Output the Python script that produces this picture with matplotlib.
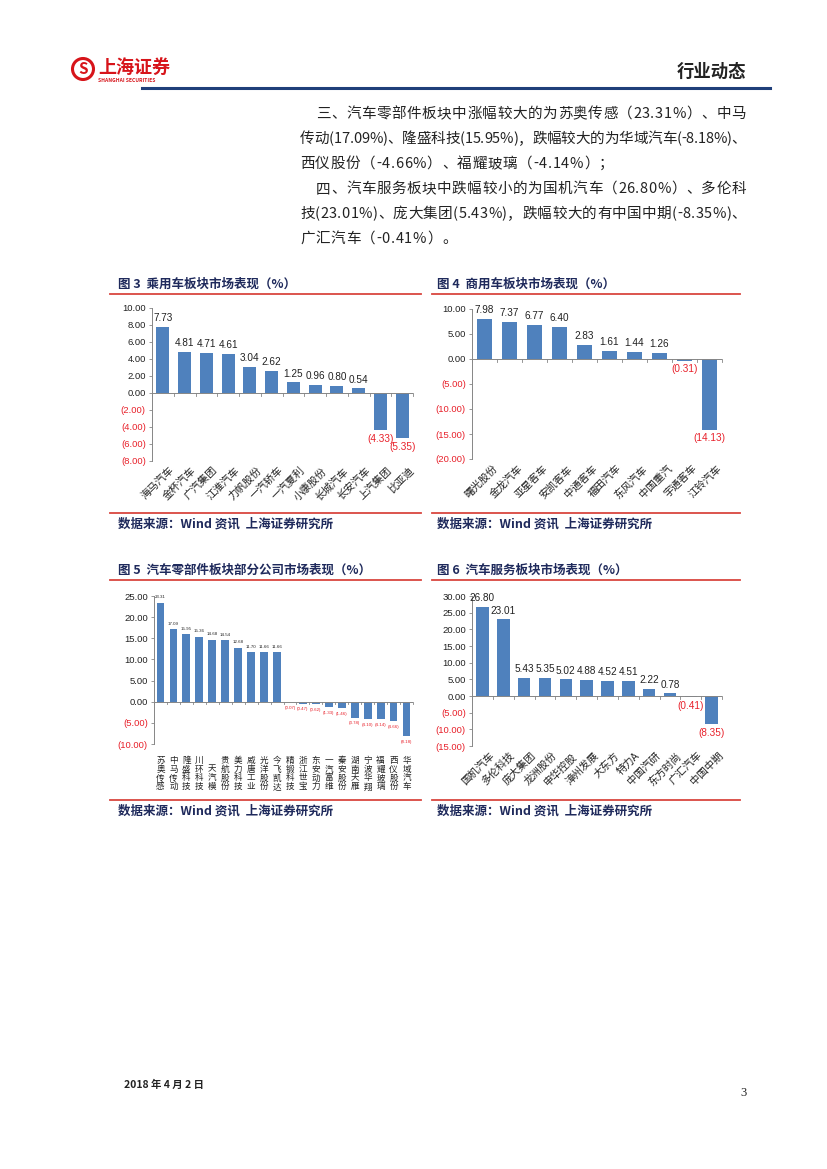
import matplotlib
matplotlib.use("Agg")
import matplotlib.pyplot as plt
from matplotlib.patches import Circle
from matplotlib.transforms import blended_transform_factory

plt.rcParams['font.family'] = ['Noto Sans CJK SC', 'DejaVu Sans']

# ---------------- data ----------------
cat3 = ['海马汽车', '金杯汽车', '广汽集团', '江淮汽车', '力帆股份', '一汽轿车',
        '一汽夏利', '小康股份', '长城汽车', '长安汽车', '上汽集团', '比亚迪']
val3 = [7.73, 4.81, 4.71, 4.61, 3.04, 2.62, 1.25, 0.96, 0.80, 0.54, -4.33, -5.35]

cat4 = ['曙光股份', '金龙汽车', '亚星客车', '安凯客车', '中通客车', '福田汽车',
        '东风汽车', '中国重汽', '宇通客车', '江铃汽车']
val4 = [7.98, 7.37, 6.77, 6.40, 2.83, 1.61, 1.44, 1.26, -0.31, -14.13]

cat5 = ['苏奥传感', '中马传动', '隆盛科技', '川环科技', '天汽模', '贵航股份',
        '美力科技', '威唐工业', '光洋股份', '今飞凯达', '精锻科技', '浙江世宝',
        '东安动力', '一汽富维', '秦安股份', '湖南天雁', '宁波华翔', '福耀玻璃',
        '西仪股份', '华域汽车']
val5 = [23.31, 17.09, 15.95, 15.36, 14.68, 14.54, 12.68, 11.70, 11.66, 11.66,
        -0.07, -0.47, -0.62, -1.33, -1.46, -3.78, -4.10, -4.14, -4.66, -8.18]

cat6 = ['国机汽车', '多伦科技', '庞大集团', '龙洲股份', '申华控股', '漳州发展',
        '大东方', '特力A', '中国汽研', '东方时尚', '广汇汽车', '中国中期']
val6 = [26.80, 23.01, 5.43, 5.35, 5.02, 4.88, 4.52, 4.51, 2.22, 0.78, -0.41, -8.35]

ticks3 = [10, 8, 6, 4, 2, 0, -2, -4, -6, -8]
ticks4 = [10, 5, 0, -5, -10, -15, -20]
ticks5 = [25, 20, 15, 10, 5, 0, -5, -10]
ticks6 = [30, 25, 20, 15, 10, 5, 0, -5, -10, -15]

titles = ['图 3  乘用车板块市场表现（%）', '图 4  商用车板块市场表现（%）',
          '图 5  汽车零部件板块部分公司市场表现（%）', '图 6  汽车服务板块市场表现（%）']
source = '数据来源：Wind 资讯  上海证券研究所'

para_lines = [
    '三、汽车零部件板块中涨幅较大的为苏奥传感（23.31%）、中马',
    '传动(17.09%)、隆盛科技(15.95%)，跌幅较大的为华域汽车(-8.18%)、',
    '西仪股份（-4.66%）、福耀玻璃（-4.14%）；',
    '四、汽车服务板块中跌幅较小的为国机汽车（26.80%）、多伦科',
    '技(23.01%)、庞大集团(5.43%)，跌幅较大的有中国中期(-8.35%)、',
    '广汇汽车（-0.41%）。',
]

# ---------------- page ----------------
W, H = 827, 1169
fig = plt.figure(figsize=(W / 100, H / 100), dpi=100)
fig.patch.set_facecolor('white')

NAVY = '#1f2a5c'
RED_LINE = '#d9463f'
BAR = '#4f81bd'
NEG = '#e8202a'


def fx(x):
    return x / W


def fy(y):
    return 1 - y / H


def hline(x0, x1, y, color, lw):
    fig.add_artist(plt.Line2D([fx(x0), fx(x1)], [fy(y), fy(y)], color=color, lw=lw,
                              transform=fig.transFigure))


# header
logo_ax = fig.add_axes([fx(70), fy(88), fx(110), 36 / H])
logo_ax.set_xlim(0, 110)
logo_ax.set_ylim(0, 36)
logo_ax.axis('off')
logo_ax.add_patch(Circle((13, 19), 10.5, fill=False, ec='#d7141a', lw=2.2))
logo_ax.text(13, 19, 'S', color='#d7141a', fontsize=11, fontweight='bold',
             ha='center', va='center', style='italic')
logo_ax.text(28, 21, '上海证券', color='#d7141a', fontsize=13, fontweight='bold',
             ha='left', va='center')
logo_ax.text(28, 8, 'SHANGHAI SECURITIES', color='#d7141a', fontsize=3.6,
             fontweight='bold', ha='left', va='center')

fig.text(fx(746), fy(72), '行业动态', fontsize=12.5, fontweight='bold', color='#222222',
         ha='right', va='center')
hline(142, 770, 88, '#1f3f7a', 2.2)

# paragraph (justified)
renderer = fig.canvas.get_renderer()
line_y = [114, 139, 164, 189, 214, 239]
line_x0 = [316, 300, 300, 316, 300, 300]
justify = [True, True, False, True, True, False]
RIGHT = 746
for s, y, x0, just in zip(para_lines, line_y, line_x0, justify):
    fs = 10.5
    widths = []
    arts = []
    for ch in s:
        t = fig.text(0, 0, ch, fontsize=fs, color='#222222', ha='left', va='center')
        bb = t.get_window_extent(renderer=renderer)
        w = bb.width if ch != ' ' else fs * 0.3
        widths.append(w)
        arts.append(t)
    total = sum(widths)
    gap = (RIGHT - x0 - total) / (len(s) - 1) if just else 0.6
    x = x0
    for t, w in zip(arts, widths):
        t.set_position((fx(x), fy(y)))
        x += w + gap


# ---------------- charts ----------------
def fmt(v):
    return f'({abs(v):.2f})' if v < 0 else f'{v:.2f}'


def draw_chart(box, cats, vals, ticks, label_fs, tick_fs, cat_fs, vertical=False,
               label_color_pos='#222222'):
    x0, y_top, x1, y_bot = box
    ax = fig.add_axes([fx(x0), fy(y_bot), fx(x1) - fx(x0), (y_bot - y_top) / H])
    n = len(cats)
    xs = list(range(n))
    ax.bar(xs, vals, width=0.6, color=BAR, zorder=2)
    ax.set_xlim(-0.5, n - 0.5)
    ax.set_ylim(min(ticks), max(ticks))
    ax.set_yticks(ticks)
    ax.set_yticklabels([fmt(t) for t in ticks], fontsize=tick_fs,
                       family=['Liberation Sans', 'DejaVu Sans'])
    for lab, t in zip(ax.get_yticklabels(), ticks):
        lab.set_color(NEG if t < 0 else '#222222')
    ax.tick_params(axis='y', length=2.5, width=0.6, color='#868686', pad=2)
    ax.set_xticks([])
    for sp in ['top', 'right', 'bottom']:
        ax.spines[sp].set_visible(False)
    ax.spines['left'].set_color('#868686')
    ax.spines['left'].set_linewidth(0.7)
    ax.axhline(0, color='#868686', lw=0.7, zorder=3)
    # category separator ticks on the zero line
    span = max(ticks) - min(ticks)
    tl = span * 0.018
    for b in range(n + 1):
        ax.plot([b - 0.5, b - 0.5], [0, -tl], color='#868686', lw=0.6, zorder=3,
                clip_on=False)
    # value labels
    off = span * 0.025
    for x, v in zip(xs, vals):
        if v >= 0:
            ax.text(x, v + off, fmt(v), ha='center', va='bottom', fontsize=label_fs,
                    color=label_color_pos, family=['Liberation Sans', 'DejaVu Sans'])
        else:
            ax.text(x, v - off, fmt(v), ha='center', va='top', fontsize=label_fs,
                    color=NEG, family=['Liberation Sans', 'DejaVu Sans'])
    trans = blended_transform_factory(ax.transData, ax.transAxes)
    for x, c in zip(xs, cats):
        if vertical:
            ax.text(x, -0.32, '\n'.join(c), transform=trans, ha='center', va='bottom',
                    fontsize=cat_fs, linespacing=0.98, color='#222222')
        else:
            ax.text(x + 0.3, -0.03, c, transform=trans, ha='right', va='top',
                    rotation=45, rotation_mode='anchor', fontsize=cat_fs,
                    color='#222222')
    return ax


# chart 3
draw_chart((152, 308, 413, 461), cat3, val3, ticks3, 7.2, 6.8, 7.5)
# chart 4
draw_chart((472, 309, 722, 459), cat4, val4, ticks4, 7.2, 6.8, 7.5)
# chart 5
draw_chart((154, 596, 413, 744), cat5, val5, ticks5, 3.2, 6.8, 6.2, vertical=True)
# chart 6
draw_chart((472, 596, 722, 746), cat6, val6, ticks6, 7.2, 6.8, 7.5)

# titles / source lines
for (tx, ty, lx0, lx1, sy), title in zip(
        [(118, 284, 110, 421, 513), (437, 284, 432, 740, 513),
         (118, 570, 110, 421, 800), (437, 570, 432, 740, 800)], titles):
    fig.text(fx(tx), fy(ty), title, fontsize=9, fontweight='bold', color=NAVY,
             ha='left', va='center')
    hline(lx0, lx1, ty + 10, RED_LINE, 1.3)
    hline(lx0, lx1, sy, RED_LINE, 1.3)
    fig.text(fx(tx), fy(sy + 11), source, fontsize=9, fontweight='bold',
             style='italic', color=NAVY, ha='left', va='center')

# footer
fig.text(fx(124), fy(1085), '2018 年 4 月 2 日', fontsize=7.5, fontweight='bold',
         color='#222222', ha='left', va='center')
fig.text(fx(747), fy(1093), '3', fontsize=9, color='#222222', ha='right', va='center',
         family=['Liberation Serif', 'DejaVu Serif'])

fig.savefig('out.png', dpi=100, facecolor='white')
